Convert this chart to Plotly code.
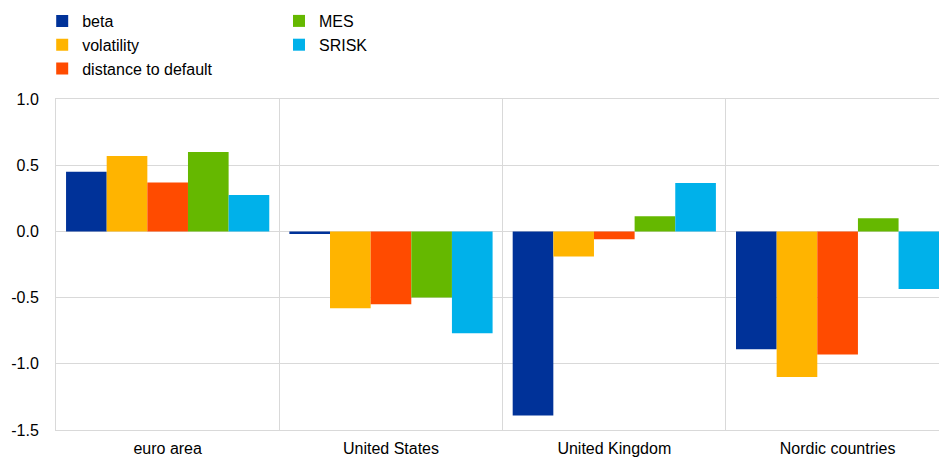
import plotly.graph_objects as go

categories = ["euro area", "United States", "United Kingdom", "Nordic countries"]
series_names = ["beta", "volatility", "distance to default", "MES", "SRISK"]
beta = [0.45, -0.02, -1.39, -0.89]
volatility = [0.57, -0.58, -0.19, -1.10]
distance_to_default = [0.37, -0.55, -0.06, -0.93]
mes = [0.60, -0.50, 0.115, 0.10]
srisk = [0.275, -0.77, 0.365, -0.435]
y_ticks = [1.0, 0.5, 0.0, -0.5, -1.0, -1.5]
y_tick_labels = ["1.0", "0.5", "0.0", "-0.5", "-1.0", "-1.5"]

colors = ["#003299", "#FFB400", "#FF4B00", "#65B800", "#00B1EA"]
values = [beta, volatility, distance_to_default, mes, srisk]
legends = ["legend", "legend", "legend", "legend2", "legend2"]

FONT = "Arial, Liberation Sans, sans-serif"
GRID = "#d9d9d9"

fig = go.Figure()
for name, vals, col, lg in zip(series_names, values, colors, legends):
    fig.add_trace(go.Bar(
        x=categories, y=vals, name=name,
        marker=dict(color=col, line=dict(width=0)),
        legend=lg,
    ))

legend_common = dict(
    orientation="v", xref="container", yref="container",
    yanchor="top", xanchor="left",
    font=dict(family=FONT, size=16, color="#000000"),
    bgcolor="rgba(0,0,0,0)", borderwidth=0, tracegroupgap=0,
    traceorder="normal", itemclick=False,
)

fig.update_layout(
    width=939, height=457,
    margin=dict(l=56, r=0, t=99, b=27, autoexpand=False),
    paper_bgcolor="white", plot_bgcolor="white",
    barmode="group", bargap=0.09, bargroupgap=0,
    font=dict(family=FONT, size=16, color="#000000"),
    legend=dict(x=42.2 / 939, y=1 - 4 / 457, **legend_common),
    legend2=dict(x=279 / 939, y=1 - 4 / 457, **legend_common),
    xaxis=dict(
        type="category", categoryorder="array", categoryarray=categories,
        range=[-0.5, 3.454],
        tickson="boundaries", ticks="", showgrid=True,
        gridcolor=GRID, gridwidth=1, zeroline=False,
        showline=True, linecolor=GRID, linewidth=1, mirror=True,
        tickfont=dict(family=FONT, size=16, color="#000000"),
        ticklabelstandoff=4,
    ),
    yaxis=dict(
        range=[-1.5, 1.0],
        tickmode="array", tickvals=y_ticks, ticktext=y_tick_labels,
        showgrid=True, gridcolor=GRID, gridwidth=1,
        zeroline=True, zerolinecolor=GRID, zerolinewidth=1,
        showline=True, linecolor=GRID, linewidth=1, mirror=False,
        ticks="",
        tickfont=dict(family=FONT, size=16, color="#000000"),
        ticklabelstandoff=13,
    ),
)

fig.write_html("out.html", config={"displayModeBar": False},
               post_script="document.body.style.margin='0';")
